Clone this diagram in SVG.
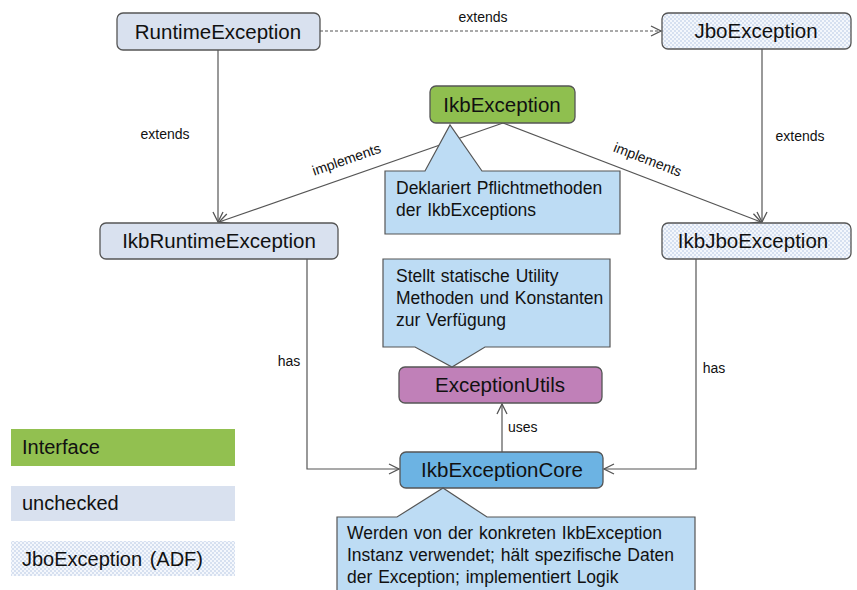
<svg xmlns="http://www.w3.org/2000/svg" width="857" height="590" viewBox="0 0 857 590">
<style>
text{font-family:"Liberation Sans",Arial,sans-serif;fill:#111}
.nt{font-size:20.5px;text-anchor:middle}
.ct{font-size:17.5px;word-spacing:1px}
.lb{font-size:14px}
.node{stroke:#555;stroke-width:1.3}
.unc{fill:#d9e1ef}
.jbo{fill:url(#chk)}
.callout{fill:#bddcf4;stroke:#555;stroke-width:1.2}
.conn{fill:none;stroke:#555;stroke-width:1.2}
</style>
<defs>
<pattern id="chk" width="4" height="4" patternUnits="userSpaceOnUse">
<rect width="4" height="4" fill="#f4f7fc"/>
<rect width="2" height="2" fill="#d6e0f0"/>
<rect x="2" y="2" width="2" height="2" fill="#d6e0f0"/>
</pattern>
<marker id="arr" viewBox="0 0 12 12" refX="11" refY="6" markerWidth="12" markerHeight="12" markerUnits="userSpaceOnUse" orient="auto">
<path d="M1,1 L11,6 L1,11" fill="none" stroke="#555" stroke-width="1.3"/>
</marker>
</defs>

<g id="connectors">
<path class="conn" d="M320,31 L661,31" stroke-dasharray="3,2" stroke="#444" marker-end="url(#arr)"/>
<text class="lb" x="483" y="22" text-anchor="middle">extends</text>
<path class="conn" d="M218,50 L218,222" marker-end="url(#arr)"/>
<text class="lb" x="165" y="139" text-anchor="middle">extends</text>
<path class="conn" d="M762,49 L762,222" marker-end="url(#arr)"/>
<text class="lb" x="800" y="141" text-anchor="middle">extends</text>
<path class="conn" d="M503,123 L219,222" marker-end="url(#arr)"/>
<text class="lb" x="348" y="164" text-anchor="middle" transform="rotate(-19.2 348 164)">implements</text>
<path class="conn" d="M503,123 L761,222" marker-end="url(#arr)"/>
<text class="lb" x="646" y="164" text-anchor="middle" transform="rotate(21 646 164)">implements</text>
<path class="conn" d="M307,259 L307,469 L399,469" marker-end="url(#arr)"/>
<text class="lb" x="289" y="366" text-anchor="middle">has</text>
<path class="conn" d="M696,259 L696,469 L604,469" marker-end="url(#arr)"/>
<text class="lb" x="714" y="373" text-anchor="middle">has</text>
<path class="conn" d="M502,452 L502,404" marker-end="url(#arr)"/>
<text class="lb" x="508" y="432">uses</text>
</g>

<g id="RuntimeException">
<rect class="node unc" x="117" y="13" width="203" height="37" rx="6"/>
<text class="nt" x="218" y="39">RuntimeException</text>
</g>
<g id="JboException">
<rect class="node jbo" x="662" y="13" width="189" height="36" rx="6"/>
<text class="nt" x="756" y="38">JboException</text>
</g>
<g id="IkbException">
<rect class="node" fill="#8fbf4f" x="430" y="86" width="145" height="37" rx="6"/>
<text class="nt" x="502" y="112">IkbException</text>
</g>
<g id="IkbRuntimeException">
<rect class="node unc" x="100" y="223" width="238" height="36" rx="6"/>
<text class="nt" x="219" y="248">IkbRuntimeException</text>
</g>
<g id="IkbJboException">
<rect class="node jbo" x="662" y="223" width="189" height="36" rx="6"/>
<text class="nt" x="753" y="248">IkbJboException</text>
</g>
<g id="ExceptionUtils">
<rect class="node" fill="#c080b8" x="399" y="367" width="203" height="36" rx="6"/>
<text class="nt" x="500" y="392">ExceptionUtils</text>
</g>
<g id="IkbExceptionCore">
<rect class="node" fill="#6cb3e3" x="400" y="452" width="203" height="36" rx="6"/>
<text class="nt" x="502" y="477">IkbExceptionCore</text>
</g>

<g id="note-IkbException">
<path class="callout" d="M385,171 L425,171 L450,125 L482,171 L620,171 L620,234 L385,234 Z"/>
<text class="ct" x="396" y="194">Deklariert Pflichtmethoden</text>
<text class="ct" x="396" y="216">der IkbExceptions</text>
</g>
<g id="note-ExceptionUtils">
<path class="callout" d="M383,259 L610,259 L610,347 L485,347 L452,367 L415,347 L383,347 Z"/>
<text class="ct" x="396" y="282">Stellt statische Utility</text>
<text class="ct" x="396" y="304">Methoden und Konstanten</text>
<text class="ct" x="396" y="326">zur Verfügung</text>
</g>
<g id="note-IkbExceptionCore">
<path class="callout" d="M337,517 L397,517 L443,488 L487,517 L695,517 L695,600 L337,600 Z"/>
<text class="ct" x="347" y="539">Werden von der konkreten IkbException</text>
<text class="ct" x="347" y="561">Instanz verwendet; hält spezifische Daten</text>
<text class="ct" x="347" y="583">der Exception; implementiert Logik</text>
</g>

<g id="legend">
<rect x="11" y="429" width="224" height="37" fill="#92c050"/>
<text x="22" y="454" font-size="20">Interface</text>
<rect x="11" y="486" width="224" height="35" fill="#d9e1ef"/>
<text x="22" y="510" font-size="20">unchecked</text>
<rect x="11" y="541" width="224" height="35" fill="url(#chk)"/>
<text x="22" y="566" font-size="20" word-spacing="2">JboException (ADF)</text>
</g>
</svg>
